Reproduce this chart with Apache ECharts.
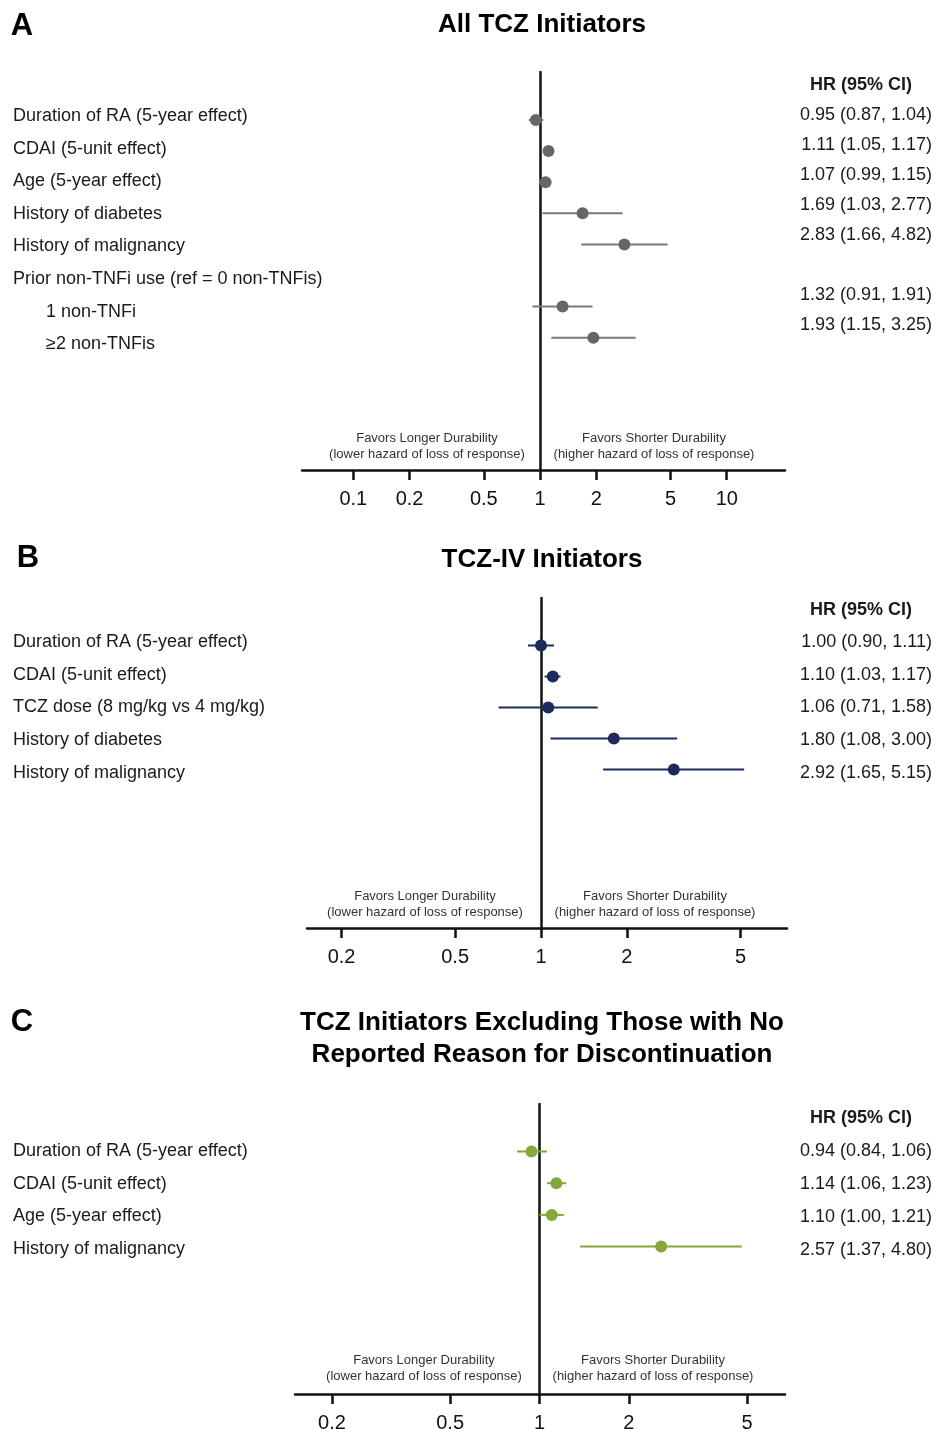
<!DOCTYPE html>
<html>
<head>
<meta charset="utf-8">
<script src="https://cdn.jsdelivr.net/npm/echarts@6/dist/echarts.min.js"></script>
<style>
html,body{margin:0;padding:0;background:#fff;}
#chart{width:936px;height:1429px;}
</style>
</head>
<body>
<div id="chart"></div>
<script>
// ---------- DATA ----------
const labelsA = ['Duration of RA (5-year effect)', 'CDAI (5-unit effect)', 'Age (5-year effect)', 'History of diabetes', 'History of malignancy', 'Prior non-TNFi use (ref = 0 non-TNFis)', '1 non-TNFi', '\u22652 non-TNFis'];
const indentA = [0, 0, 0, 0, 0, 0, 1, 1];
const hrA = [0.95, 1.11, 1.07, 1.69, 2.83, null, 1.32, 1.93];
const loA = [0.87, 1.05, 0.99, 1.03, 1.66, null, 0.91, 1.15];
const hiA = [1.04, 1.17, 1.15, 2.77, 4.82, null, 1.91, 3.25];
const ticksA = [0.1, 0.2, 0.5, 1, 2, 5, 10];

const labelsB = ['Duration of RA (5-year effect)', 'CDAI (5-unit effect)', 'TCZ dose (8 mg/kg vs 4 mg/kg)', 'History of diabetes', 'History of malignancy'];
const indentB = [0, 0, 0, 0, 0];
const hrB = [1.00, 1.10, 1.06, 1.80, 2.92];
const loB = [0.90, 1.03, 0.71, 1.08, 1.65];
const hiB = [1.11, 1.17, 1.58, 3.00, 5.15];
const ticksB = [0.2, 0.5, 1, 2, 5];

const labelsC = ['Duration of RA (5-year effect)', 'CDAI (5-unit effect)', 'Age (5-year effect)', 'History of malignancy'];
const indentC = [0, 0, 0, 0];
const hrC = [0.94, 1.14, 1.10, 2.57];
const loC = [0.84, 1.06, 1.00, 1.37];
const hiC = [1.06, 1.23, 1.21, 4.80];
const ticksC = [0.2, 0.5, 1, 2, 5];

const titleA = ['All TCZ Initiators'];
const titleB = ['TCZ-IV Initiators'];
const titleC = ['TCZ Initiators Excluding Those with No', 'Reported Reason for Discontinuation'];
const hrHeader = 'HR (95% CI)';
const favorsLeft = ['Favors Longer Durability', '(lower hazard of loss of response)'];
const favorsRight = ['Favors Shorter Durability', '(higher hazard of loss of response)'];

// ---------- LAYOUT ----------
const FONT = '"Liberation Sans", Arial, sans-serif';
const panels = [
  { letter: 'A', labels: labelsA, indent: indentA, hr: hrA, lo: loA, hi: hiA, ticks: ticksA, title: titleA,
    grid: { left: 302, top: 72, width: 483, height: 398 }, xr: [-1.275, 1.312],
    labelY: [116, 32.6], dotY: [120, 31.1], hrY: [115.5, 30],
    titleY: 25, letterPos: [22, 26], headerY: 85.5, favY: [438, 454], favX: [427, 654],
    color: '#666666', lineColor: '#7a7a7a' },
  { letter: 'B', labels: labelsB, indent: indentB, hr: hrB, lo: loB, hi: hiB, ticks: ticksB, title: titleB,
    grid: { left: 307, top: 598, width: 480, height: 330 }, xr: [-0.82, 0.862],
    labelY: [642, 32.75], dotY: [645.5, 31], hrY: [642, 32.75],
    titleY: 560, letterPos: [28, 558], headerY: 610.5, favY: [896, 912], favX: [425, 655],
    color: '#1c2a5c', lineColor: '#1c2a5c' },
  { letter: 'C', labels: labelsC, indent: indentC, hr: hrC, lo: loC, hi: hiC, ticks: ticksC, title: titleC,
    grid: { left: 295, top: 1104, width: 490, height: 290 }, xr: [-0.8235, 0.827],
    labelY: [1151, 32.7], dotY: [1151.5, 31.7], hrY: [1151, 33],
    titleY: 1023, letterPos: [22, 1022], headerY: 1118.5, favY: [1360, 1376], favX: [424, 653],
    color: '#84a83a', lineColor: '#84a83a' }
];

function yRange(grid, first, step) {
  const min = -(first - grid.top) / step;
  return { min: min, max: min + grid.height / step };
}
function f2(v) { return v.toFixed(2); }

const grids = [], xAxes = [], yAxes = [], series = [], graphics = [];
const LABEL_LEFT = 13, LABEL_MARGIN = 8, INDENT = 33;

panels.forEach(function (p, k) {
  grids.push(Object.assign({ containLabel: false, outerBoundsMode: 'none' }, p.grid));
  const tv = p.ticks.map(function (t) { return Math.log10(t); });
  xAxes.push({
    type: 'value', gridIndex: k, min: p.xr[0], max: p.xr[1], position: 'bottom',
    axisLine: { show: true, onZero: false, lineStyle: { color: '#111', width: 2.5 } },
    axisTick: { show: true, customValues: tv, length: 10, inside: false, lineStyle: { color: '#111', width: 2.5 } },
    axisLabel: {
      show: true, customValues: tv, margin: 19, fontSize: 20, color: '#111', fontFamily: FONT,
      formatter: function (v) {
        for (let i = 0; i < p.ticks.length; i++) if (Math.abs(Math.log10(p.ticks[i]) - v) < 1e-6) return String(p.ticks[i]);
        return '';
      }
    },
    splitLine: { show: false }
  });
  const rows = p.labels.map(function (_, i) { return i; });
  const valued = rows.filter(function (i) { return p.hr[i] != null; });
  const lr = yRange(p.grid, p.labelY[0], p.labelY[1]);
  const hr = yRange(p.grid, p.hrY[0], p.hrY[1]);
  const dr = yRange(p.grid, p.dotY[0], p.dotY[1]);
  // labels are anchored at the grid's left edge
  const boxW = p.grid.left - LABEL_MARGIN - LABEL_LEFT;
  const base = yAxes.length;
  // label axis (also draws the vertical reference line at HR = 1)
  yAxes.push({
    type: 'value', gridIndex: k, inverse: true, min: lr.min, max: lr.max, position: 'left',
    axisLine: { show: true, onZero: true, onZeroAxisIndex: k, lineStyle: { color: '#111', width: 2.5 } },
    axisTick: { show: false },
    splitLine: { show: false },
    axisLabel: {
      show: true, customValues: rows, margin: LABEL_MARGIN,
      fontSize: 18, color: '#1a1a1a', fontFamily: FONT,
      formatter: function (v) {
        const i = Math.round(v);
        return (p.indent[i] ? '{ind|' : '{n|') + p.labels[i] + '}';
      },
      rich: {
        n: { fontSize: 18, color: '#1a1a1a', fontFamily: FONT, width: boxW, align: 'left' },
        ind: { fontSize: 18, color: '#1a1a1a', fontFamily: FONT, width: boxW - INDENT, align: 'left', padding: [0, 0, 0, INDENT] }
      }
    }
  });
  // HR text axis (right column)
  yAxes.push({
    type: 'value', gridIndex: k, inverse: true, min: hr.min, max: hr.max, position: 'right',
    axisLine: { show: false, onZero: false }, axisTick: { show: false }, splitLine: { show: false },
    axisLabel: {
      show: true, customValues: valued, align: 'right', margin: 932 - (p.grid.left + p.grid.width),
      fontSize: 18, color: '#1a1a1a', fontFamily: FONT,
      formatter: function (v) {
        const i = Math.round(v);
        if (p.hr[i] == null) return '';
        return f2(p.hr[i]) + ' (' + f2(p.lo[i]) + ', ' + f2(p.hi[i]) + ')';
      }
    }
  });
  // hidden axis for the markers
  yAxes.push({
    type: 'value', gridIndex: k, inverse: true, min: dr.min, max: dr.max, show: false,
    axisLine: { show: false, onZero: false }, splitLine: { show: false }
  });

  const barData = valued.map(function (i) { return [Math.log10(p.lo[i]), Math.log10(p.hi[i]), i]; });
  const ptData = valued.map(function (i) { return [Math.log10(p.hr[i]), i]; });
  series.push({
    type: 'custom', xAxisIndex: k, yAxisIndex: base + 2, z: 3, silent: true,
    encode: { x: [0, 1], y: 2 },
    data: barData,
    renderItem: function (params, api) {
      const a = api.coord([api.value(0), api.value(2)]);
      const b = api.coord([api.value(1), api.value(2)]);
      return { type: 'line', shape: { x1: a[0], y1: a[1], x2: b[0], y2: b[1] },
               style: { stroke: p.lineColor, lineWidth: 2 } };
    }
  });
  series.push({
    type: 'scatter', xAxisIndex: k, yAxisIndex: base + 2, z: 4, silent: true,
    symbol: 'circle', symbolSize: 12,
    itemStyle: { color: p.color, opacity: 1 },
    data: ptData
  });

  // annotations
  graphics.push({ type: 'text', x: p.letterPos[0], y: p.letterPos[1],
    style: { text: p.letter, font: 'bold 31px ' + FONT, fill: '#000', textAlign: 'center', textVerticalAlign: 'middle' } });
  p.title.forEach(function (t, j) {
    graphics.push({ type: 'text', x: 542, y: p.titleY + j * 32,
      style: { text: t, font: 'bold 26px ' + FONT, fill: '#000', textAlign: 'center', textVerticalAlign: 'middle' } });
  });
  graphics.push({ type: 'text', x: 861, y: p.headerY,
    style: { text: hrHeader, font: 'bold 18px ' + FONT, fill: '#1a1a1a', textAlign: 'center', textVerticalAlign: 'middle' } });
  [favorsLeft, favorsRight].forEach(function (lines, s) {
    lines.forEach(function (t, j) {
      graphics.push({ type: 'text', x: p.favX[s], y: p.favY[j],
        style: { text: t, font: '13px ' + FONT, fill: '#333', textAlign: 'center', textVerticalAlign: 'middle' } });
    });
  });
});

const chart = echarts.init(document.getElementById('chart'), null, { renderer: 'canvas' });
chart.setOption({
  backgroundColor: '#fff',
  animation: false,
  grid: grids,
  xAxis: xAxes,
  yAxis: yAxes,
  series: series,
  graphic: { elements: graphics }
});
</script>
</body>
</html>
